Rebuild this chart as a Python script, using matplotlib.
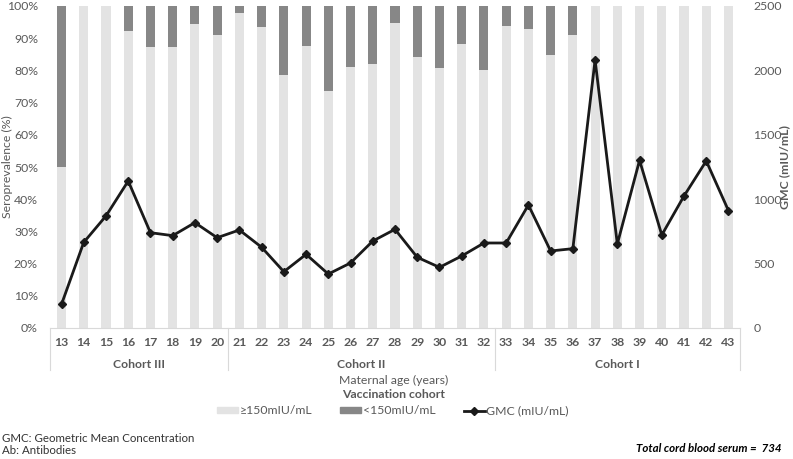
import matplotlib.pyplot as plt
import matplotlib.lines as mlines
import matplotlib.patches as mpatches
import numpy as np

plt.rcParams['font.family'] = ['Lato', 'DejaVu Sans']

ages = list(range(13, 44))
pct_high = [50.0, 100, 100, 92.3, 87.2, 87.4, 94.4, 91.0, 97.7, 93.6,
            78.7, 87.7, 73.7, 81.1, 82.0, 94.8, 84.1, 80.7, 88.1, 80.1,
            93.9, 93.0, 84.8, 91.1, 100, 100, 100, 100, 100, 100, 100]
gmc = [184, 665, 870, 1141, 740, 717, 818, 701, 761, 627,
       437, 572, 419, 505, 675, 766, 549, 471, 559, 660,
       660, 955, 598, 616, 2081, 652, 1302, 722, 1025, 1297, 911]
cohorts = ['Cohort III', 'Cohort II', 'Cohort I']
cohort_bounds = [(13, 20), (21, 32), (33, 43)]

pct_high = np.array(pct_high)
pct_low = 100 - pct_high
x = np.arange(len(ages))

light = '#e3e3e3'
dark = '#878787'
txt = '#595959'
axc = '#d9d9d9'
fs = 8.8

fig = plt.figure(figsize=(7.93, 4.59), dpi=100)
ax = fig.add_axes([50.4 / 793, (459 - 328) / 459, (739.6 - 50.4) / 793, 322 / 459])
ax.bar(x, pct_high, width=0.41, color=light, zorder=1)
ax.bar(x, pct_low, width=0.41, bottom=pct_high, color=dark, zorder=1)
ax.set_xlim(-0.5, len(ages) - 0.5)
ax.set_ylim(0, 100)
ax.set_yticks(np.arange(0, 101, 10))
ax.set_yticklabels([f'{v}%' for v in range(0, 101, 10)], color=txt, fontsize=fs)
ax.set_xticks([])
for s in ['top', 'right', 'left']:
    ax.spines[s].set_visible(False)
ax.spines['bottom'].set_color(axc)
ax.tick_params(axis='y', length=0, pad=9)

ax2 = ax.twinx()
ax2.plot(x, gmc, color='#1a1a1a', lw=2, marker='D', markersize=3.8, zorder=3)
ax2.set_ylim(0, 2500)
ax2.set_yticks(np.arange(0, 2501, 500))
ax2.set_yticklabels([str(v) for v in range(0, 2501, 500)], color=txt, fontsize=fs)
ax2.tick_params(axis='y', length=0, pad=10)
for s in ['top', 'right', 'left', 'bottom']:
    ax2.spines[s].set_visible(False)

fig.text(7 / 793, 1 - 167 / 459, 'Seroprevalence (%)', rotation=90, ha='center',
         va='center', color=txt, fontsize=fs)
fig.text(785 / 793, 1 - 167 / 459, 'GMC (mIU/mL)', rotation=90, ha='center',
         va='center', color=txt, fontsize=fs, fontweight='bold')

# multi-level category axis
tr = ax.get_xaxis_transform()
for i, a in enumerate(ages):
    ax.text(i, -0.045, str(a), transform=tr, ha='center', va='center',
            color=txt, fontsize=fs, fontweight='bold')
edges = [-0.5]
for (lo, hi), name in zip(cohort_bounds, cohorts):
    i0, i1 = ages.index(lo), ages.index(hi)
    ax.text((i0 + i1) / 2, -0.112, name, transform=tr, ha='center', va='center',
            color=txt, fontsize=fs, fontweight='bold')
    edges.append(i1 + 0.5)
for e in edges:
    ax.add_line(mlines.Line2D([e, e], [0, -0.13], transform=tr, color=axc,
                              lw=0.8, clip_on=False))

fig.text(394 / 793, 1 - 380 / 459, 'Maternal age (years)', ha='center', va='center',
         color=txt, fontsize=fs)
fig.text(394 / 793, 1 - 394 / 459, 'Vaccination cohort', ha='center', va='center',
         color=txt, fontsize=fs, fontweight='bold')

handles = [mpatches.Patch(color=light, label='≥150mIU/mL'),
           mpatches.Patch(color=dark, label='<150mIU/mL'),
           mlines.Line2D([], [], color='#1a1a1a', lw=2, marker='D', markersize=3.8,
                         label='GMC (mIU/mL)')]
leg = fig.legend(handles=handles, loc='center', bbox_to_anchor=(393 / 793, 1 - 411 / 459),
                 ncol=3, frameon=False, fontsize=fs, columnspacing=2.3,
                 handlelength=1.7, handleheight=0.45, handletextpad=0.15)
for t in leg.get_texts():
    t.set_color(txt)

fig.text(2 / 793, 1 - 438 / 459, 'GMC: Geometric Mean Concentration', ha='left',
         va='center', color='#333333', fontsize=8.3)
fig.text(2 / 793, 1 - 451 / 459, 'Ab: Antibodies', ha='left', va='center',
         color='#333333', fontsize=8.3)
fig.text(782 / 793, 1 - 448 / 459, 'Total cord blood serum =  734', ha='right',
         va='center', color='black', fontsize=8.3, fontweight='bold', fontstyle='italic')

fig.savefig('out.png', dpi=100)
